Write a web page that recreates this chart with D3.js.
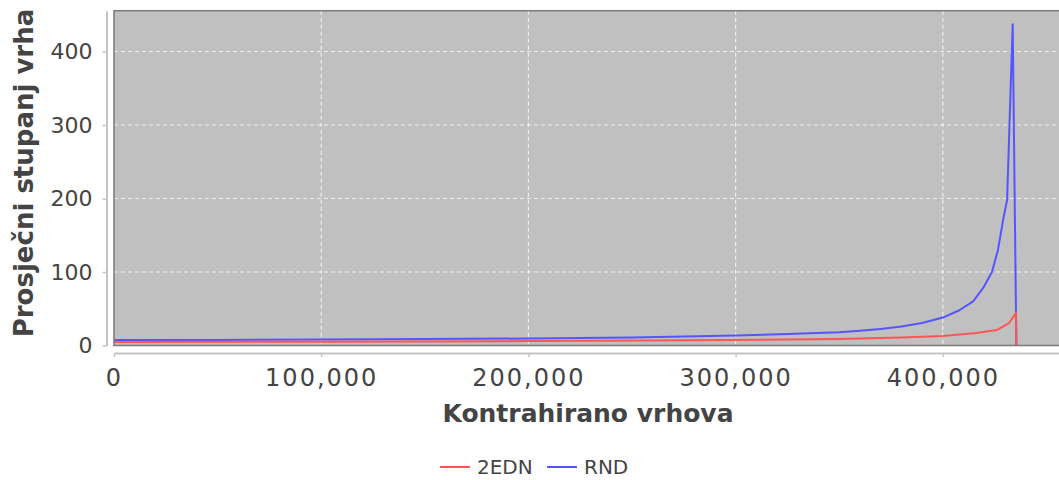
<!DOCTYPE html>
<html>
<head>
<meta charset="utf-8">
<script src="https://cdn.jsdelivr.net/npm/d3@7"></script>
<style>
  body { margin: 0; background: #fff; }
  text { font-family: "DejaVu Sans", sans-serif; }
</style>
</head>
<body>
<svg id="chart" width="1059" height="480"></svg>
<script>
// series: contracted vertices -> average vertex degree
var seriesNames = ['2EDN', 'RND'];
var seriesColors = ['#ff5555', '#5555ff'];

var ednX = [0, 100000, 200000, 234000, 300000, 350000, 380000, 400000, 415000, 426000, 432000, 435300, 435500];
var ednY = [4.8, 5.2, 6, 6.5, 7.5, 9, 10.8, 13, 16.6, 21, 30.6, 44, 0];

var rndX = [0, 50000, 100000, 150000, 200000, 250000, 300000, 325000, 350000, 360000, 370000, 380000, 390000, 400000, 408000, 414600, 419400, 423700, 426600, 429100, 431000, 433700, 435300, 435500];
var rndY = [7.5, 7.6, 8, 8.7, 9.5, 11, 13.5, 15.5, 18, 20, 22.5, 26, 30.5, 38, 48, 60, 78, 100, 130, 171, 198, 437, 44, 0];

var xTicks = [0, 100000, 200000, 300000, 400000];
var yTicks = [0, 100, 200, 300, 400];

(function() {
  var svg = d3.select('#chart');
  var pLeft = 114, pRight = 1062, pTop = 10.7, pBottom = 345.5;

  var x = d3.scaleLinear().domain([0, 457500]).range([pLeft, pRight]);
  var y = d3.scaleLinear().domain([0, 455.5]).range([pBottom, pTop]);

  svg.append('clipPath').attr('id', 'plotclip')
    .append('rect').attr('x', pLeft).attr('y', pTop).attr('width', pRight - pLeft).attr('height', pBottom - pTop);

  // plot background
  svg.append('rect')
    .attr('x', pLeft).attr('y', pTop).attr('width', pRight - pLeft).attr('height', pBottom - pTop)
    .attr('fill', '#c0c0c0');

  // gridlines
  var grid = svg.append('g').attr('stroke', '#ffffff').attr('stroke-opacity', 0.75)
    .attr('stroke-width', 1.2).attr('stroke-dasharray', '4,3');
  grid.selectAll('.gx').data(xTicks.slice(1)).enter().append('line')
    .attr('x1', function(d) { return x(d); }).attr('x2', function(d) { return x(d); })
    .attr('y1', pTop).attr('y2', pBottom);
  grid.selectAll('.gy').data(yTicks.slice(1)).enter().append('line')
    .attr('y1', function(d) { return y(d); }).attr('y2', function(d) { return y(d); })
    .attr('x1', pLeft).attr('x2', pRight);

  // series, 2EDN drawn last so it sits on top
  var line = d3.line().x(function(d) { return x(d[0]); }).y(function(d) { return y(d[1]); });
  var data = [d3.zip(ednX, ednY), d3.zip(rndX, rndY)];
  var plot = svg.append('g').attr('clip-path', 'url(#plotclip)');
  [1, 0].forEach(function(i) {
    plot.append('path')
      .datum(data[i])
      .attr('d', line)
      .attr('fill', 'none')
      .attr('stroke', seriesColors[i])
      .attr('stroke-width', 2)
      .attr('stroke-linejoin', 'round');
  });

  // plot outline
  svg.append('rect')
    .attr('x', pLeft).attr('y', pTop).attr('width', pRight - pLeft).attr('height', pBottom - pTop)
    .attr('fill', 'none').attr('stroke', '#7a7a7a').attr('stroke-width', 1.5);

  // axes
  var xAxis = d3.axisBottom(x).tickValues(xTicks).tickFormat(d3.format(',')).tickSize(4).tickSizeOuter(0);
  var gx = svg.append('g').attr('transform', 'translate(0,353)').call(xAxis);
  gx.select('.domain').attr('stroke', '#c4c4c4').attr('stroke-width', 2);
  gx.selectAll('.tick line').attr('stroke', '#c4c4c4').attr('stroke-width', 1.5);
  gx.selectAll('.tick text').attr('fill', '#444').attr('font-size', 24)
    .attr('letter-spacing', 2).attr('font-family', '"DejaVu Sans", sans-serif').attr('dy', '1.1em');

  var yAxis = d3.axisLeft(y).tickValues(yTicks).tickSize(4).tickSizeOuter(0);
  var gy = svg.append('g').attr('transform', 'translate(106.5,0)').call(yAxis);
  gy.select('.domain').attr('stroke', '#c4c4c4').attr('stroke-width', 2);
  gy.selectAll('.tick line').attr('stroke', '#c4c4c4').attr('stroke-width', 1.5);
  gy.selectAll('.tick text').attr('fill', '#444').attr('font-size', 22)
    .attr('font-family', '"DejaVu Sans", sans-serif').attr('x', -14);

  // axis labels
  svg.append('text')
    .attr('x', (pLeft + pRight) / 2).attr('y', 422)
    .attr('text-anchor', 'middle').attr('font-size', 25).attr('font-weight', 'bold').attr('fill', '#444')
    .text('Kontrahirano vrhova');
  svg.append('text')
    .attr('transform', 'translate(33,173) rotate(-90)')
    .attr('text-anchor', 'middle').attr('font-size', 26).attr('font-weight', 'bold').attr('fill', '#444')
    .text('Prosječni stupanj vrha');

  // legend
  var legend = svg.append('g').attr('transform', 'translate(0,467)');
  var lx = [440, 547];
  seriesNames.forEach(function(name, i) {
    legend.append('line')
      .attr('x1', lx[i]).attr('x2', lx[i] + 30).attr('y1', 0).attr('y2', 0)
      .attr('stroke', seriesColors[i]).attr('stroke-width', 2);
    legend.append('text')
      .attr('x', lx[i] + 37).attr('y', 0).attr('dy', '0.35em')
      .attr('font-size', 20).attr('fill', '#444')
      .text(name);
  });
})();
</script>
</body>
</html>
